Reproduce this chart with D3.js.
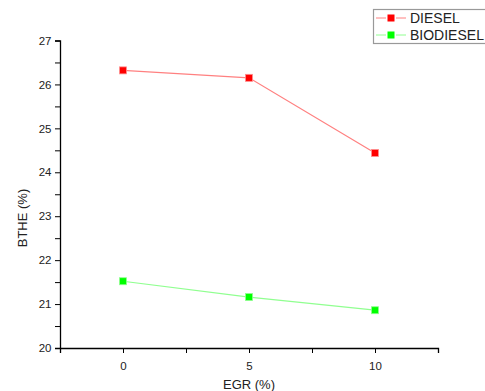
<!DOCTYPE html>
<html>
<head>
<meta charset="utf-8">
<script src="https://cdn.jsdelivr.net/npm/d3@7"></script>
<style>
  body { margin: 0; background: #fff; }
  svg { display: block; font-family: "Liberation Sans", Arial, sans-serif; }
</style>
</head>
<body>
<div id="chart"></div>
<script>
const egr = [0, 5, 10];
const diesel = [26.32, 26.15, 24.44];
const biodiesel = [21.52, 21.16, 20.86];
const seriesNames = ["DIESEL", "BIODIESEL"];
const xTicks = [-2.5, 0, 2.5, 5, 7.5, 10, 12.5];
const yTicks = [20, 21, 22, 23, 24, 25, 26, 27];

const width = 485, height = 391;
const marginLeft = 60, marginRight = 47, marginTop = 40.5, marginBottom = 43;

const x = d3.scaleLinear().domain([-2.5, 12.5]).range([marginLeft, width - marginRight]);
const y = d3.scaleLinear().domain([20, 27]).range([height - marginBottom, marginTop]);

const svg = d3.select("#chart").append("svg")
    .attr("width", width)
    .attr("height", height);

// x axis
svg.append("g")
    .attr("transform", `translate(0,${y(20)})`)
    .call(d3.axisBottom(x).tickValues(xTicks).tickSizeOuter(0).tickSize(5)
        .tickFormat(d => [0, 5, 10].includes(d) ? d : ""))
    .call(g => g.select(".domain").attr("stroke", "#000").attr("stroke-width", 1.3))
    .call(g => g.selectAll(".tick line").attr("stroke", "#000"))
    .call(g => g.selectAll(".tick text").attr("fill", "#222").attr("font-size", 11.5).attr("dy", "1.25em"));

// y axis
const yMinor = d3.range(20, 27.01, 0.5);
svg.append("g")
    .attr("transform", `translate(${x(-2.5)},0)`)
    .call(d3.axisLeft(y).tickValues(yMinor).tickSizeOuter(0).tickSize(5)
        .tickFormat(d => yTicks.includes(d) ? d : ""))
    .call(g => g.select(".domain").attr("stroke", "#000").attr("stroke-width", 1.3))
    .call(g => g.selectAll(".tick line").attr("stroke", "#000"))
    .call(g => g.selectAll(".tick text").attr("fill", "#222").attr("font-size", 11.5).attr("dx", "-0.05em"));

// axis titles
svg.append("text")
    .attr("x", x(5))
    .attr("y", 389)
    .attr("text-anchor", "middle")
    .attr("font-size", 13)
    .attr("fill", "#222")
    .text("EGR (%)");

svg.append("text")
    .attr("transform", `translate(27,218) rotate(-90)`)
    .attr("text-anchor", "middle")
    .attr("font-size", 13)
    .attr("fill", "#222")
    .text("BTHE (%)");

const series = [
    {name: seriesNames[0], values: diesel, line: "#ff8080", fill: "#ff0000", stroke: "#ff9090"},
    {name: seriesNames[1], values: biodiesel, line: "#90ff90", fill: "#00ff00", stroke: "#90ff90"}
];

const line = d3.line().x((d, i) => x(egr[i])).y(d => y(d));
const ms = 7;

for (const s of series) {
    svg.append("path")
        .attr("d", line(s.values))
        .attr("fill", "none")
        .attr("stroke", s.line)
        .attr("stroke-width", 1.2);
    svg.append("g")
        .selectAll("rect")
        .data(s.values)
        .join("rect")
        .attr("x", (d, i) => x(egr[i]) - ms / 2)
        .attr("y", d => y(d) - ms / 2)
        .attr("width", ms)
        .attr("height", ms)
        .attr("fill", s.fill)
        .attr("stroke", s.stroke)
        .attr("stroke-width", 0.8);
}

// legend
const legend = svg.append("g");
legend.append("rect")
    .attr("x", 373.5).attr("y", 9.5)
    .attr("width", 120).attr("height", 34)
    .attr("fill", "#fff")
    .attr("stroke", "#999")
    .attr("stroke-width", 1.2);

series.forEach((s, i) => {
    const ly = 18 + i * 17;
    for (const [a, b] of [[376, 386], [396, 406]]) {
        legend.append("line")
            .attr("x1", a).attr("x2", b)
            .attr("y1", ly).attr("y2", ly)
            .attr("stroke", s.line).attr("stroke-width", 1);
    }
    legend.append("rect")
        .attr("x", 391 - 3.5).attr("y", ly - 3.5)
        .attr("width", 7).attr("height", 7)
        .attr("fill", s.fill);
    legend.append("text")
        .attr("x", 410).attr("y", ly + 5)
        .attr("font-size", 14)
        .attr("fill", "#222")
        .text(s.name);
});
</script>
</body>
</html>
